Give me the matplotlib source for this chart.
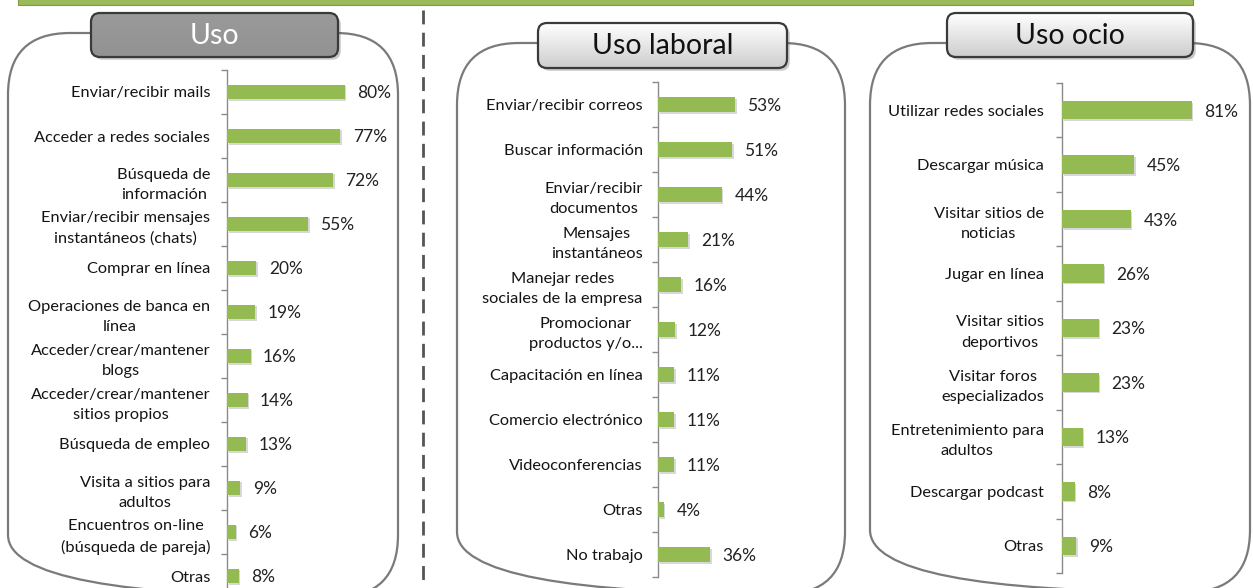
import matplotlib
matplotlib.use('Agg')
import matplotlib.pyplot as plt
import numpy as np
from matplotlib.patches import FancyBboxPatch, Rectangle
import matplotlib.patheffects as pe

plt.rcParams['font.family'] = ['Lato', 'DejaVu Sans']

# ---------------- data ----------------
panel_titles = ['Uso', 'Uso laboral', 'Uso ocio']

uso_labels = ['Enviar/recibir mails', 'Acceder a redes sociales',
              'Búsqueda de\ninformación', 'Enviar/recibir mensajes\ninstantáneos (chats)',
              'Comprar en línea', 'Operaciones de banca en\nlínea',
              'Acceder/crear/mantener\nblogs', 'Acceder/crear/mantener\nsitios propios',
              'Búsqueda de empleo', 'Visita a sitios para\nadultos',
              'Encuentros on-line\n(búsqueda de pareja)', 'Otras']
uso_values = [80, 77, 72, 55, 20, 19, 16, 14, 13, 9, 6, 8]

laboral_labels = ['Enviar/recibir correos', 'Buscar información',
                  'Enviar/recibir\ndocumentos', 'Mensajes\ninstantáneos',
                  'Manejar redes\nsociales de la empresa', 'Promocionar\nproductos y/o...',
                  'Capacitación en línea', 'Comercio electrónico',
                  'Videoconferencias', 'Otras', 'No trabajo']
laboral_values = [53, 51, 44, 21, 16, 12, 11, 11, 11, 4, 36]

ocio_labels = ['Utilizar redes sociales', 'Descargar música',
               'Visitar sitios de\nnoticias', 'Jugar en línea',
               'Visitar sitios\ndeportivos', 'Visitar foros\nespecializados',
               'Entretenimiento para\nadultos', 'Descargar podcast', 'Otras']
ocio_values = [81, 45, 43, 26, 23, 23, 13, 8, 9]

GREEN = '#94bb51'
W, H = 1253, 588
fig = plt.figure(figsize=(W / 100, H / 100), dpi=100)
fig.patch.set_facecolor('white')

bg = fig.add_axes([0, 0, 1, 1])
bg.set_xlim(0, W)
bg.set_ylim(H, 0)
bg.axis('off')

# top green band
bg.add_patch(Rectangle((18, -2), 1175, 7, fc='#9bbb59', ec='#7d9c44', lw=0.8))
# dashed divider
bg.plot([423, 423], [10, 590], color='#555555', lw=2, ls=(0, (5, 3)))

# panel frames (x0, y0, x1, y1)
frames = [(8, 33, 398, 597), (457, 43, 845, 594), (870, 43, 1250, 592)]
for (x0, y0, x1, y1) in frames:
    bg.add_patch(FancyBboxPatch((x0, y0), x1 - x0, y1 - y0,
                                boxstyle='round,pad=0,rounding_size=62',
                                fc='none', ec='#7a7a7a', lw=1.6))

# title boxes
tboxes = [(91, 13, 338, 57), (538, 23, 787, 68), (947, 13, 1193, 57)]
tstyles = [(('#9a9a9a', '#929292'), 'white'),
           (('#ffffff', '#cdcdcd'), '#111111'),
           (('#ffffff', '#cdcdcd'), '#111111')]
for (x0, y0, x1, y1), ((ctop, cbot), tcol), title in zip(tboxes, tstyles, panel_titles):
    p = FancyBboxPatch((x0, y0), x1 - x0, y1 - y0,
                       boxstyle='round,pad=0,rounding_size=9',
                       fc='white', ec='none', lw=0, zorder=2,
                       path_effects=[pe.SimplePatchShadow(offset=(2, -2), alpha=0.3),
                                     pe.Normal()])
    bg.add_patch(p)
    c1 = np.array(matplotlib.colors.to_rgb(ctop))
    c2 = np.array(matplotlib.colors.to_rgb(cbot))
    t = np.linspace(0, 1, 64)[:, None]
    grad = (c1 * (1 - t) + c2 * t)[:, None, :]
    im = bg.imshow(grad, extent=(x0, x1, y1, y0), aspect='auto', zorder=2.5)
    im.set_clip_path(p)
    edge = FancyBboxPatch((x0, y0), x1 - x0, y1 - y0,
                          boxstyle='round,pad=0,rounding_size=9',
                          fc='none', ec='#3a3a3a', lw=1.6, zorder=3)
    bg.add_patch(edge)
    bg.text((x0 + x1) / 2, (y0 + y1) / 2 + 1, title, ha='center', va='center',
            fontsize=20.5, color=tcol, zorder=4)
bg.set_xlim(0, W)
bg.set_ylim(H, 0)


def bar_panel(axis_x, top, bottom, scale, labels, values, pad):
    width_px = 100 * scale
    ax = fig.add_axes([axis_x / W, 1 - bottom / H, width_px / W, (bottom - top) / H])
    ax.patch.set_alpha(0)
    n = len(values)
    y = np.arange(n)
    ax.barh(y, values, height=0.34, color=GREEN, zorder=3,
            path_effects=[pe.SimplePatchShadow(offset=(1.2, -1.2), shadow_rgbFace='#aaaaaa', alpha=0.45),
                          pe.Normal()])
    ax.set_xlim(0, 100)
    ax.set_ylim(n - 0.5, -0.5)
    ax.set_yticks(np.arange(n + 1) - 0.5)
    ax.set_yticklabels([])
    ax.set_yticks(y, labels=labels, minor=True)
    ax.tick_params(axis='y', which='minor', length=0, pad=pad, labelsize=11.8, labelcolor='#141414')
    ax.tick_params(axis='y', which='major', length=4, color='#8a8a8a', width=1)
    for lab in ax.get_yticklabels(minor=True):
        lab.set_multialignment('center')
        lab.set_linespacing(1.55)
    for s in ['top', 'right', 'bottom']:
        ax.spines[s].set_visible(False)
    ax.spines['left'].set_color('#8a8a8a')
    ax.spines['left'].set_linewidth(1)
    ax.xaxis.set_visible(False)
    for i, v in enumerate(values):
        ax.annotate(f'{v}%', (v, i), xytext=(9, -1), textcoords='offset points',
                    va='center', ha='left', fontsize=12.5, color='#222222')
    return ax


bar_panel(227, 70, 598, 1.47, uso_labels, uso_values, 12)
bar_panel(658, 82, 577, 1.45, laboral_labels, laboral_values, 11)
bar_panel(1062, 83, 573, 1.60, ocio_labels, ocio_values, 13)

fig.savefig('out.png', dpi=100)
